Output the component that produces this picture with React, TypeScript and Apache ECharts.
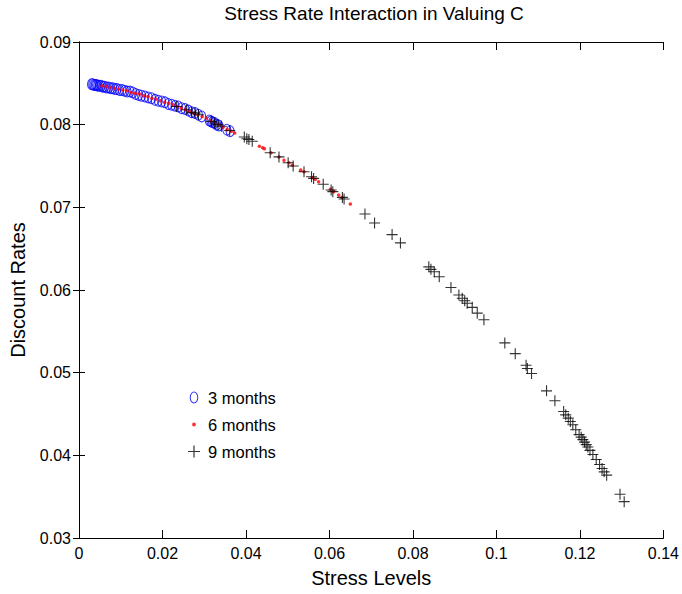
import React, { useEffect, useRef } from "react";
import * as echarts from "echarts";

const TITLE = "Stress Rate Interaction in Valuing C";
const X_NAME = "Stress Levels";
const Y_NAME = "Discount Rates";
const SERIES_NAMES = ["3 months", "6 months", "9 months"];

// 3 months (blue open ellipses): [stress, rate]
const months3: [number, number][] = [
  [0.003, 0.0849], [0.0033, 0.0849], [0.0036, 0.0848], [0.0039, 0.0848], [0.0042, 0.0848],
  [0.0045, 0.0847], [0.0049, 0.0847], [0.0053, 0.0847], [0.0057, 0.0846], [0.0061, 0.0846],
  [0.0066, 0.0845], [0.0071, 0.0845], [0.0076, 0.0844], [0.0081, 0.0844], [0.0086, 0.0843],
  [0.0091, 0.0843], [0.0097, 0.0842], [0.0103, 0.0842], [0.0109, 0.0841], [0.0115, 0.084],
  [0.0122, 0.084], [0.0129, 0.0839], [0.0136, 0.0837], [0.0143, 0.0836], [0.015, 0.0835],
  [0.0158, 0.0834], [0.0166, 0.0833], [0.0174, 0.0832], [0.0182, 0.083], [0.019, 0.0829],
  [0.0198, 0.0828], [0.0206, 0.0827], [0.0214, 0.0825], [0.0222, 0.0824], [0.023, 0.0823],
  [0.0238, 0.0822], [0.0246, 0.082], [0.0254, 0.0819], [0.0262, 0.0817], [0.027, 0.0815],
  [0.0278, 0.0814], [0.0286, 0.0812], [0.0294, 0.081], [0.0312, 0.0805], [0.0316, 0.0804],
  [0.032, 0.0803], [0.0325, 0.0802], [0.033, 0.08], [0.0335, 0.0799], [0.0354, 0.0794],
  [0.0362, 0.0792],
];

// 6 months (small red dots)
const months6: [number, number][] = [
  [0.0055, 0.0847], [0.0065, 0.0846], [0.0075, 0.0845], [0.0085, 0.0844], [0.0095, 0.0843],
  [0.0105, 0.0842], [0.0115, 0.0841], [0.0125, 0.0839], [0.0135, 0.0838], [0.0145, 0.0837],
  [0.0155, 0.0835], [0.0165, 0.0834], [0.0175, 0.0832], [0.0185, 0.0831], [0.0195, 0.0829],
  [0.0205, 0.0827], [0.0215, 0.0826], [0.0225, 0.0824], [0.0235, 0.0822], [0.0245, 0.082],
  [0.0255, 0.0818], [0.0265, 0.0816], [0.0275, 0.0814], [0.0285, 0.0812], [0.0295, 0.081],
  [0.0305, 0.0808], [0.0315, 0.0805], [0.0325, 0.0802], [0.0335, 0.08], [0.0345, 0.0797],
  [0.0355, 0.0794], [0.0365, 0.0792], [0.0373, 0.079], [0.0432, 0.0774], [0.044, 0.0772],
  [0.0444, 0.0771], [0.046, 0.0766], [0.0479, 0.0761], [0.0491, 0.0757], [0.0503, 0.0754],
  [0.0511, 0.0751], [0.0531, 0.0745], [0.0539, 0.0743], [0.0559, 0.0736], [0.0566, 0.0734],
  [0.0574, 0.0731], [0.0602, 0.0722], [0.061, 0.0719], [0.0622, 0.0715], [0.063, 0.0712],
  [0.065, 0.0704],
];

// 9 months (black crosses)
const months9: [number, number][] = [
  [0.0234, 0.0822], [0.0258, 0.0818], [0.027, 0.0815], [0.0278, 0.0814], [0.0286, 0.0812],
  [0.0317, 0.0804], [0.0325, 0.0802], [0.0333, 0.08], [0.0341, 0.0798], [0.0361, 0.0793],
  [0.0396, 0.0785], [0.0402, 0.0783], [0.0407, 0.0782], [0.0415, 0.078], [0.0458, 0.0766],
  [0.0479, 0.0761], [0.0501, 0.0754], [0.0513, 0.075], [0.0539, 0.0743], [0.0557, 0.0737],
  [0.0562, 0.0735], [0.0585, 0.0728], [0.0604, 0.0721], [0.0608, 0.0719], [0.0631, 0.0712],
  [0.0635, 0.071], [0.0685, 0.0692], [0.0708, 0.0681], [0.075, 0.0667], [0.077, 0.0657],
  [0.0838, 0.0628], [0.0843, 0.0625], [0.0851, 0.0622], [0.0863, 0.0616], [0.0891, 0.0603],
  [0.091, 0.0594], [0.0918, 0.059], [0.0924, 0.0587], [0.093, 0.0584], [0.0942, 0.0579],
  [0.0954, 0.0572], [0.097, 0.0564], [0.102, 0.0536], [0.1045, 0.0523], [0.1071, 0.0509],
  [0.1074, 0.0505], [0.1084, 0.0499], [0.112, 0.0478], [0.114, 0.0466], [0.1161, 0.0453],
  [0.1166, 0.0449], [0.1172, 0.0445], [0.1177, 0.0441], [0.1183, 0.0437], [0.119, 0.0431],
  [0.1198, 0.0425], [0.1203, 0.0422], [0.1207, 0.0419], [0.1211, 0.0416], [0.1215, 0.0413],
  [0.1219, 0.041], [0.1224, 0.0406], [0.1231, 0.0401], [0.1239, 0.0395], [0.1247, 0.0389],
  [0.1253, 0.0384], [0.1258, 0.038], [0.1264, 0.0376], [0.1296, 0.0353], [0.1306, 0.0344],
];

const X_MIN = 0, X_MAX = 0.14, X_STEP = 0.02;
const Y_MIN = 0.03, Y_MAX = 0.09, Y_STEP = 0.01;

const RING =
  "path://M5,0A5,7 0 1,1 5,14A5,7 0 1,1 5,0ZM5,1.2A3.8,5.8 0 1,0 5,12.8A3.8,5.8 0 1,0 5,1.2Z";
const CROSS = "path://M4.5,0h1v10h-1zM0,4.5h10v1h-10z";
const DOT_ICON =
  "path://M0,0h0.01v0.01h-0.01zM5,3.4A1.6,1.6 0 1,1 5,6.6A1.6,1.6 0 1,1 5,3.4ZM9.99,9.99h0.01v0.01h-0.01z";

const FONT = "'Liberation Sans', Arial, Helvetica, sans-serif";

export default function App() {
  const ref = useRef<HTMLDivElement>(null);
  useEffect(() => {
    if (!ref.current) return;
    const chart = echarts.init(ref.current, undefined, { renderer: "svg" });
    const axisLine = { show: true, lineStyle: { color: "#000", width: 1 } };
    const xBase = {
      type: "value" as const,
      min: X_MIN,
      max: X_MAX,
      interval: X_STEP,
      axisLine,
      splitLine: { show: false },
      axisTick: { show: true, inside: true, length: 8, lineStyle: { color: "#000" } },
    };
    const yBase = {
      type: "value" as const,
      min: Y_MIN,
      max: Y_MAX,
      interval: Y_STEP,
      axisLine,
      splitLine: { show: false },
      axisTick: { show: true, inside: true, length: 6, lineStyle: { color: "#000" } },
    };
    chart.setOption({
      animation: false,
      backgroundColor: "#fff",
      textStyle: { fontFamily: FONT },
      title: {
        text: TITLE,
        left: 374,
        textAlign: "center",
        top: 4,
        padding: 0,
        textStyle: { fontSize: 19, fontWeight: "normal", color: "#000", fontFamily: FONT },
      },
      grid: { left: 78, right: 14, top: 42, bottom: 56, containLabel: false },
      legend: {
        orient: "vertical",
        left: 188,
        top: 389,
        padding: 0,
        itemWidth: 12,
        itemHeight: 12,
        itemGap: 10,
        selectedMode: false,
        textStyle: { fontSize: 16.5, lineHeight: 15, color: "#000", fontFamily: FONT, padding: [0, 0, 0, 3] },
        data: [
          { name: SERIES_NAMES[0], icon: RING, itemStyle: { color: "#0000ff" } },
          { name: SERIES_NAMES[1], icon: DOT_ICON, itemStyle: { color: "#ff0000" } },
          { name: SERIES_NAMES[2], icon: CROSS, itemStyle: { color: "#000" } },
        ],
      },
      xAxis: [
        {
          ...xBase,
          position: "bottom",
          name: X_NAME,
          nameLocation: "middle",
          nameGap: 30,
          nameTextStyle: { fontSize: 20, color: "#000", fontFamily: FONT },
          axisLabel: { color: "#000", fontSize: 16, margin: 7, fontFamily: FONT },
        },
        { ...xBase, position: "top", axisLabel: { show: false } },
      ],
      yAxis: [
        {
          ...yBase,
          position: "left",
          name: Y_NAME,
          nameLocation: "middle",
          nameGap: 51,
          nameTextStyle: { fontSize: 20, color: "#000", fontFamily: FONT },
          axisLabel: { color: "#000", fontSize: 16, margin: 8, fontFamily: FONT },
        },
        { ...yBase, position: "right", axisLabel: { show: false } },
      ],
      series: [
        {
          name: SERIES_NAMES[0],
          type: "scatter",
          data: months3,
          symbol: RING,
          symbolSize: [9, 12],
          itemStyle: { color: "#0000ff" },
          xAxisIndex: 0,
          yAxisIndex: 0,
          z: 2,
        },
        {
          name: SERIES_NAMES[1],
          type: "scatter",
          data: months6,
          symbol: "circle",
          symbolSize: 3.5,
          itemStyle: { color: "#ff0000" },
          xAxisIndex: 0,
          yAxisIndex: 0,
          z: 3,
        },
        {
          name: SERIES_NAMES[2],
          type: "scatter",
          data: months9,
          symbol: CROSS,
          symbolSize: 11,
          itemStyle: { color: "#000" },
          xAxisIndex: 0,
          yAxisIndex: 0,
          z: 4,
        },
      ],
    });
    return () => chart.dispose();
  }, []);
  return <div ref={ref} style={{ width: 682, height: 594, position: "absolute", left: 0, top: 0 }} />;
}
